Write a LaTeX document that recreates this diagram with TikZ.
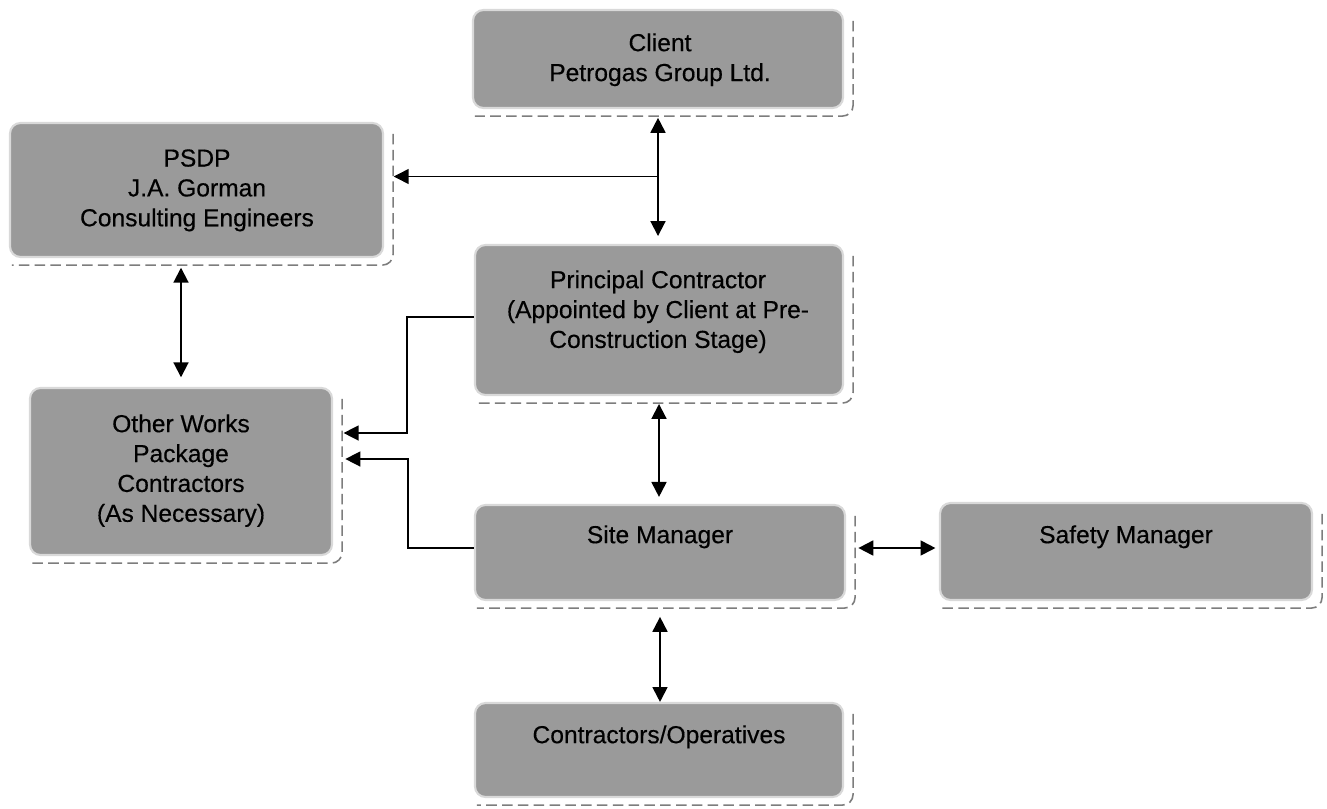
\documentclass[tikz,border=0pt]{standalone}
\usepackage{fontspec}
\setmainfont{Liberation Sans}
\newfontfamily\heavyfont[FakeBold=0.35]{Liberation Sans}
\usetikzlibrary{arrows.meta,fit,calc}
\definecolor{boxgray}{RGB}{154,154,154}
\definecolor{dashgray}{RGB}{125,125,125}
\newcommand\boxshade[1]{\draw[shade] ([shift={(9,12)}]#1.north east) -- ([shift={(9,7)}]#1.south east) -- ([shift={(3,7)}]#1.south west);}
\begin{document}
\begin{tikzpicture}[x=0.02cm,y=-0.02cm,
 box/.style={fill=boxgray, draw=gray!30, line width=1.2pt, rounded corners=6pt, inner sep=0pt},
 txt/.style={font=\heavyfont\fontsize{14}{17}\selectfont, align=center, anchor=north, inner sep=0pt},
 shade/.style={draw=dashgray, line width=0.9pt, dash pattern=on 6pt off 3pt, rounded corners=6pt},
 dbl/.style={{Triangle[length=8.5pt,width=8.5pt]}-{Triangle[length=8.5pt,width=8.5pt]}, line width=1.1pt},
 arr/.style={-{Triangle[length=8.5pt,width=8.5pt]}, line width=0.8pt}]
\useasboundingbox[fill=white] (0,0) rectangle (1327,808);

\node[box, fit={(473,10)(843,108)}] (client) {};
\node[box, fit={(10,123)(383,257)}] (psdp) {};
\node[box, fit={(475,245)(843,395)}] (pc) {};
\node[box, fit={(30,388)(332,555)}] (other) {};
\node[box, fit={(475,505)(845,600)}] (site) {};
\node[box, fit={(940,503)(1312,600)}] (safety) {};
\node[box, fit={(475,703)(843,797)}] (ops) {};

\boxshade{client}
\boxshade{psdp}
\boxshade{pc}
\boxshade{other}
\boxshade{site}
\boxshade{safety}
\boxshade{ops}

\node[txt] (tclient) at (660,33) {Client\\Petrogas Group Ltd.};
\node[txt] (tpsdp) at (197,149) {PSDP\\J.A. Gorman\\Consulting Engineers};
\node[txt] (tpc) at (658,270) {Principal Contractor\\(Appointed by Client at Pre-\\Construction Stage)};
\node[txt] (tother) at (181,414) {Other Works\\Package\\Contractors\\(As Necessary)};
\node[txt] (tsite) at (660,525) {Site Manager};
\node[txt] (tsafety) at (1126,525) {Safety Manager};
\node[txt] (tops) at (659,725) {Contractors/Operatives};

\coordinate (b1) at ($(client.south)!0.5!(pc.north)$);
\coordinate (j1) at (407,433);
\coordinate (j2) at (408,459);

\draw[dbl, shorten <=5pt, shorten >=4.5pt] (client.south) -- (client.south |- pc.north);
\draw[arr, shorten >=5.5pt] (b1) -- (psdp.east |- b1);
\draw[dbl, shorten <=5.5pt, shorten >=5.5pt] (other.north |- psdp.south) -- (other.north);
\draw[arr, shorten >=6pt] ([yshift=0.06cm]pc.west) -| (j1) -- (other.east |- j1);
\draw[arr, shorten >=7pt] ([yshift=0.09cm]site.west) -| (j2) -- (other.east |- j2);
\draw[dbl, shorten <=4.5pt, shorten >=4pt] (pc.south) -- (pc.south |- site.north);
\draw[dbl, shorten <=7pt, shorten >=2pt] ([yshift=0.09cm]site.east) -- ([yshift=0.09cm]site.east -| safety.west);
\draw[dbl, shorten <=9pt] (site.south) -- (site.south |- ops.north);
\end{tikzpicture}
\end{document}
